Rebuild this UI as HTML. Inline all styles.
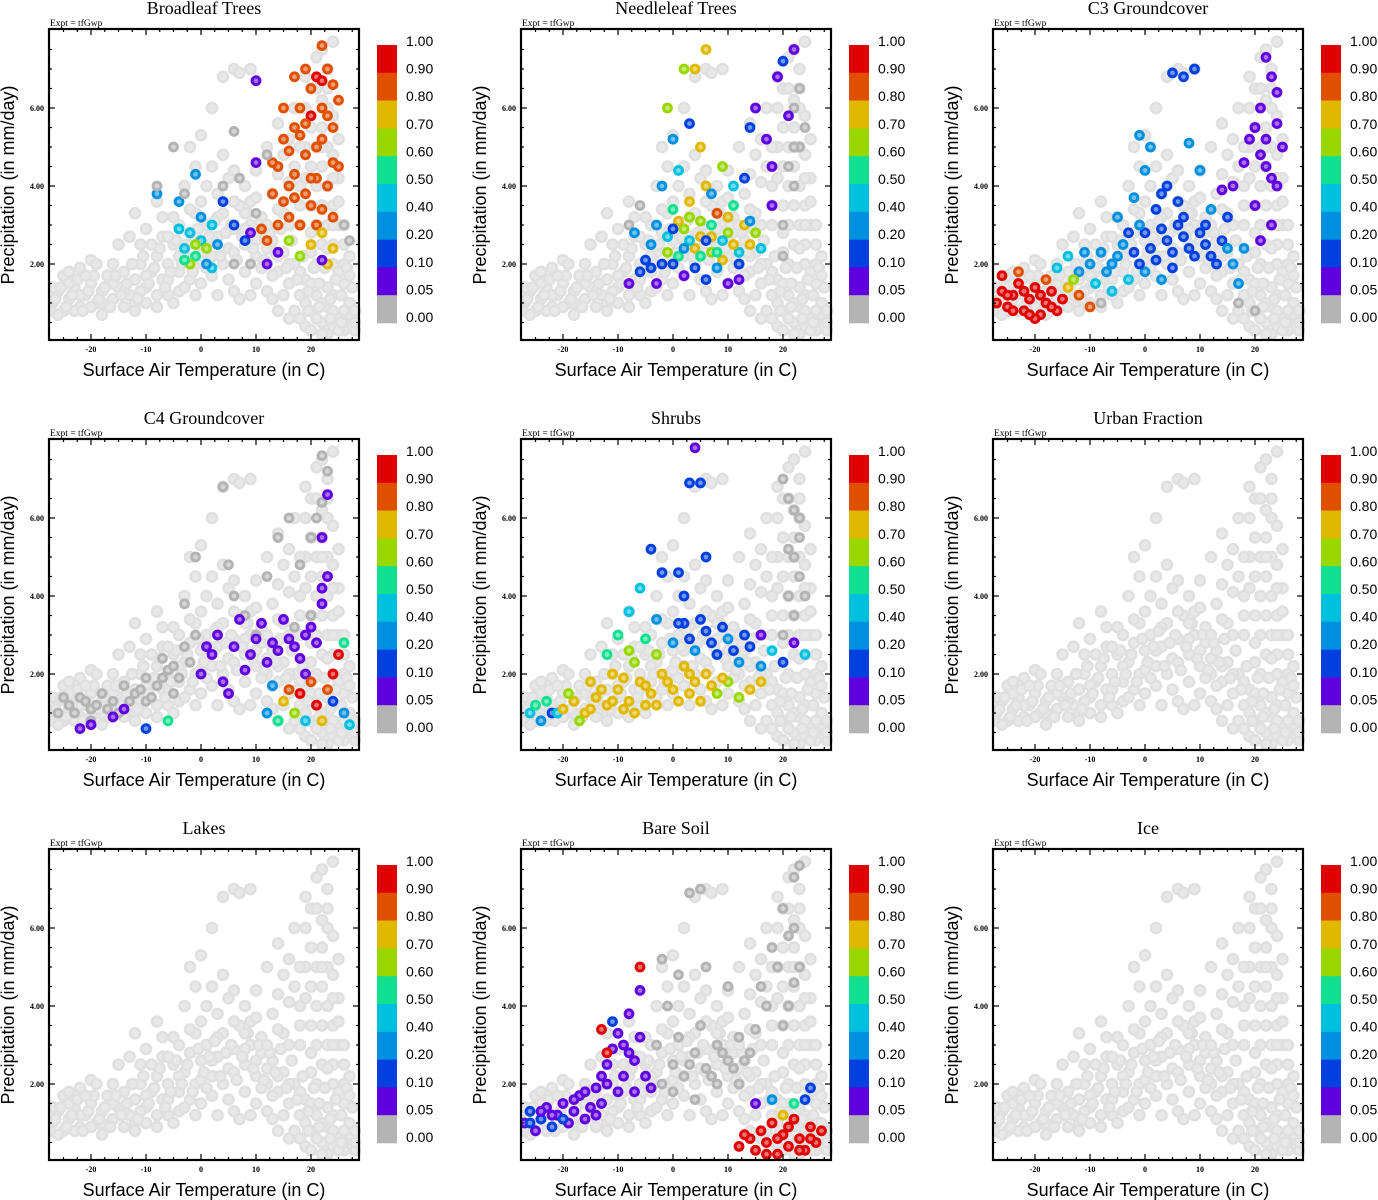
<!DOCTYPE html>
<html><head><meta charset="utf-8"><style>
html,body{margin:0;padding:0;background:#fff;}
svg{display:block;}
.ttl{font-family:"Liberation Serif",serif;font-size:18px;}
.ex{font-family:"Liberation Serif",serif;font-size:9.5px;}
.tk{font-family:"Liberation Serif",serif;font-size:8px;font-weight:bold;}
.al{font-family:"Liberation Sans",sans-serif;font-size:18px;}
.cb{font-family:"Liberation Sans",sans-serif;font-size:14px;}
</style></head><body>
<svg id="fig" width="1378" height="1200" viewBox="0 0 1378 1200" xmlns="http://www.w3.org/2000/svg"></svg>
<script>
const panelTitles = ["Broadleaf Trees","Needleleaf Trees","C3 Groundcover","C4 Groundcover","Shrubs","Urban Fraction","Lakes","Bare Soil","Ice"];
const xTicks = [-20,-10,0,10,20];
const yTicks = [2,4,6];
const yTickLabels = ["2.00","4.00","6.00"];
const cbLabels = ["1.00","0.90","0.80","0.70","0.60","0.50","0.40","0.20","0.10","0.05","0.00"];
const cbThresholds = [0.9,0.8,0.7,0.6,0.5,0.4,0.2,0.1,0.05,0];
const cbColors = ["#e00000","#e05000","#e0b800","#98d800","#10e090","#00c0e0","#0090e0","#0040e0","#6000e0","#b4b4b4"];

const baseCloud = [[-27,1.0],[-26,1.3],[-25,0.8],[-24,1.1],[-23,1.4],[-22,0.9],[-21,1.2],[-20,1.5],[-19,1.0],[-18,1.3],[-17,1.7],[-16,1.1],[-15,1.4],[-14,1.8],[-13,1.2],[-12,1.6],[-11,2.0],[-10,1.4],[-9,1.8],[-8,2.2],[-7,1.6],[-6,2.0],[-5,2.5],[-4,1.8],[-3,2.3],[-2,2.8],[-1,2.0],[0,2.6],[1,3.0],[2,2.2],[3,2.7],[4,3.3],[5,2.4],[6,2.9],[7,3.5],[8,2.5],[9,3.0],[10,2.2],[11,2.8],[12,2.0],[13,2.6],[14,1.8],[15,2.3],[16,1.5],[17,2.0],[18,1.2],[19,1.6],[20,0.8],[21,1.2],[22,0.5],[23,0.9],[24,0.4],[25,0.7],[26,0.3],[27,0.6],[28,0.3],[19,0.4],[23,0.2],[27,1.0],[-3,4.0],[-2,5.0],[-1,4.5],[1,4.0],[3,3.8],[5,4.2],[6,7.0],[7,6.9],[9,7.0],[4,6.8],[2,6.0],[0,5.3],[-10,2.9],[-12,3.3],[-8,3.6],[-5,3.2],[-15,2.5],[-20,2.1],[-25,1.7],[18,3],[18,4],[19,5],[19,6],[20,3.5],[20,4.5],[20,5.5],[20,6.5],[21,3],[21,4],[21,5],[21,7.3],[22,2.5],[22,3.5],[22,4.5],[22,5.5],[22,6.2],[22,7.5],[23,3],[23,4],[23,5],[23,6],[23,7],[24,2.5],[24,3.5],[24,4.8],[24,5.8],[24,7.7],[25,3],[25,4.2],[25,5.2],[26,2],[26,3],[15,3.3],[16,4.1],[13,3.8],[12,5.0],[10,4.4],[8,4.0],[-6,1.2],[-4,1.3],[0,1.5],[2,1.7],[5,1.6],[8,1.8],[10,1.5],[12,1.3],[-18,0.7],[-14,0.9],[-10,1.0],[14,0.8],[16,0.6],[21,2.0],[25,1.8],[27,2.2],[-26,0.7],[-24,1.5],[-22,1.2],[-20,0.9],[-18,1.0],[-16,1.5],[-14,1.3],[-12,1.0],[-10,1.7],[-8,1.2],[-6,1.6],[-4,2.2],[-2,1.6],[0,2.1],[2,2.6],[4,2.0],[6,2.3],[8,2.9],[10,2.6],[12,2.4],[14,2.2],[16,2.0],[18,1.8],[20,1.5],[22,1.0],[24,1.2],[26,0.8],[28,0.8],[17,0.8],[19,1.0],[21,0.6],[23,1.4],[25,0.3],[-1,3.3],[3,3.2],[6,3.6],[9,3.6],[11,3.2],[14,4.3],[16,5.2],[18,5.0],[17,6.0],[14,5.6],[-11,1.3],[-7,2.7],[-3,1.4],[1,1.9],[6,1.3],[11,1.9],[13,1.1],[15,1.2],[20,2.3],[24,2.0],[26,1.5],[-27,1.4],[-23,0.8],
[-27.5,0.8],[-26.5,1.1],[-25.5,1.4],[-24.5,0.9],[-23.5,1.2],[-22.5,1.6],[-21.5,0.8],[-20.5,1.3],[-19.5,1.7],[-18.5,1.1],[-17.5,1.4],[-16.5,0.9],[-15.5,1.7],[-14.5,1.2],[-13.5,1.5],[-12.5,2.0],[-11.5,1.1],[-10.5,2.2],[-9.5,1.5],[-8.5,1.9],[-7.5,2.4],[-6.5,1.4],[-5.5,1.8],[-4.5,2.6],[-3.5,2.0],[-2.5,2.5],[-1.5,1.8],[-0.5,2.9],[0.5,2.3],[1.5,2.7],[2.5,3.1],[3.5,2.2],[4.5,2.8],[5.5,3.0],[6.5,2.1],[7.5,2.7],[8.5,3.3],[9.5,2.4],[10.5,3.0],[11.5,2.1],[12.5,2.8],[13.5,2.3],[14.5,2.9],[15.5,1.9],[16.5,2.6],[17.5,1.6],[18.5,2.2],[19.5,1.3],[20.5,1.9],[21.5,1.5],[22.5,1.9],[23.5,1.1],[24.5,1.6],[25.5,1.2],[26.5,1.9],[27.5,1.4],[18,0.6],[20,0.3],[22,0.2],[24,0.8],[26,0.5],[28,0.5],[19.5,0.8],[21.5,0.9],[23.5,0.6],[25.5,0.5],[-24,1.8],[-21,1.7],[-19,2.0],[-9,2.5],[-6,2.7],[-4,3.0],[-2,3.4],[0,3.6],[2,4.5],[4,4.8],[6,4.4],[8,3.3],[10,3.7],[12,3.0],[14,3.4],[16,3.0],[18,3.5],[17,4.5],[15,4.8],[19,4.2],[19,6.8],[21,6.5],[23,6.5],[22,5.0],[24,4.2],[25,3.6],[24,3.0],[23,2.4],[20,2.8],[26,2.5],[27,1.7],[-13,2.7],[-11,2.5],[-7,3.2],[-16,2.0],[-22,1.9],[-5,1.0],[-1,1.2],[3,1.2],[7,1.1],[9,1.2],[13,1.7],[-8,0.9],[-12,0.8]];

const ptsBroadleaf = [[14,4.5,.85],[15,5.2,.85],[16,4.0,.85],[17,5.5,.85],[18,6.0,.85],[19,4.8,.85],[20,6.5,.85],[21,5.0,.85],[22,6.0,.85],[23,7.0,.85],[24,5.5,.85],[25,4.5,.85],[22,7.6,.85],[20,3.5,.85],[18,3.0,.85],[16,3.2,.85],[14,3.0,.85],[12,2.6,.85],[13,3.8,.85],[15,6.0,.85],[17,4.3,.85],[19,7.0,.85],[21,6.8,.95],[23,4.0,.85],[24,3.2,.85],[25,6.2,.85],[21,4.2,.85],[19,3.8,.85],[22,5.2,.85],[20,5.8,.95],[11,2.9,.85],[17,6.8,.85],[24,6.6,.85],[15,3.6,.85],[16,4.9,.85],[18,5.3,.85],[20,4.2,.85],[22,3.4,.85],[23,5.8,.85],[24,4.6,.85],[21,3.0,.85],[19,5.6,.85],[17,3.7,.85],[22,6.7,.95],[13,4.6,.85],[20,2.5,.75],[22,2.8,.75],[24,2.4,.75],[18,2.2,.65],[16,2.6,.65],[23,2.0,.75],[-3,2.4,.45],[-2,2.8,.45],[-1,2.2,.55],[0,2.6,.45],[1,2.4,.65],[2,3.0,.45],[3,2.5,.3],[-4,2.9,.45],[-2,2.0,.65],[0,3.2,.3],[4,3.6,.15],[6,3.0,.15],[8,2.6,.1],[2,1.9,.45],[-1,2.5,.65],[1,2.0,.3],[-3,2.1,.55],[10,6.7,.05],[10,4.6,.05],[12,2.0,.05],[9,2.8,.05],[22,2.1,.05],[-8,3.8,.3],[-4,3.6,.3],[-1,4.3,.3],[14,2.3,.05],[-5,5,0],[-8,4,0],[-3,3.8,0],[4,4.0,0],[6,5.4,0],[7,4.2,0],[10,3.3,0],[12,4.8,0],[26,3.0,0],[27,2.6,0],[9,2.0,0],[6,2.0,0]];
const ptsNeedleleaf = [[20,3,0],[22,4,0],[23,5,0],[22,6,0],[24,5.5,0],[21,4.5,0],[-6,3.5,0],[-8,3,0],[20,2.2,0],[22,5,0],[23,6.5,0],[-5,2.1,.1],[-4,2.5,.3],[-3,3.0,.3],[-2,2.0,.1],[-1,2.7,.45],[0,3.4,.55],[1,2.2,.55],[2,2.9,.65],[3,3.6,.75],[4,2.4,.75],[5,3.1,.65],[6,4.0,.75],[7,2.7,.75],[8,3.3,.85],[9,2.1,.75],[10,2.8,.65],[11,3.5,.55],[12,2.3,.45],[13,3.0,.75],[14,2.5,.75],[15,2.8,.65],[16,2.4,.45],[0,2.0,.1],[2,1.7,.05],[4,1.9,.1],[6,1.6,.1],[8,1.9,.3],[10,1.5,.05],[12,2.0,.1],[-8,1.5,.05],[-6,1.8,.1],[-7,2.8,.3],[-2,4.0,.3],[0,5.2,.3],[1,4.4,.45],[3,5.6,.15],[2,7.0,.65],[4,7.0,.75],[5,5.0,.75],[-1,6.0,.65],[7,3.8,.3],[9,4.5,.65],[11,4.0,.45],[13,4.2,.1],[14,5.5,.1],[15,6.0,.05],[17,5.2,.05],[18,4.5,.05],[19,6.8,.05],[20,7.2,.1],[21,5.8,.05],[22,7.5,.05],[18,3.5,.05],[12,1.6,.05],[3,2.6,.45],[5,2.2,.55],[7,3.0,.55],[-3,1.5,.05],[6,7.5,.75],[1,3.1,.75],[3,3.2,.65],[5,2.7,.75],[7,2.3,.65],[9,2.6,.45],[11,2.5,.75],[-1,2.3,.65],[0,2.9,.1],[2,2.4,.3],[6,2.6,.1],[8,2.3,.55],[10,3.2,.75],[14,3.1,.3],[-4,1.9,.1]];
const ptsC3 = [[17,1.0,0],[20,0.8,0],[-8,1.0,0],[-12,1.8,.3],[-10,2.0,.3],[-8,2.3,.3],[-6,2.0,.3],[-4,2.5,.3],[-2,2.3,.15],[0,2.8,.15],[2,2.1,.1],[4,2.6,.1],[6,3.0,.1],[8,2.4,.1],[10,2.8,.1],[12,2.2,.12],[14,2.6,.15],[16,2.0,.3],[-9,1.5,.45],[-6,1.3,.45],[-3,1.6,.45],[0,1.8,.3],[3,1.6,.3],[5,1.9,.15],[-5,3.2,.3],[-2,3.7,.3],[0,4.4,.3],[1,5.0,.3],[2,3.4,.15],[4,4.0,.15],[6,3.6,.12],[5,6.9,.15],[7,6.8,.1],[9,7.0,.15],[8,5.1,.3],[10,4.4,.3],[12,3.4,.3],[15,3.2,.15],[18,2.4,.3],[-16,1.9,.45],[-14,2.2,.45],[-1,5.3,.3],[17,1.5,.3],[-11,2.3,.3],[-7,1.8,.3],[-5,2.2,.3],[-3,2.8,.15],[-1,2.0,.15],[1,2.4,.1],[3,2.9,.1],[5,2.3,.15],[7,2.7,.1],[9,2.2,.1],[11,2.5,.15],[13,2.0,.1],[15,2.4,.3],[-1,3.0,.3],[3,3.8,.15],[7,3.2,.15],[11,3.0,.1],[16,4.0,.05],[18,4.6,.05],[19,5.2,.05],[20,3.5,.05],[21,6.0,.05],[22,4.5,.05],[23,6.8,.05],[24,5.6,.05],[22,7.3,.05],[23,3.0,.05],[24,4.0,.05],[25,5.0,.05],[21,2.6,.05],[20,5.5,.05],[14,3.9,.05],[22,5.2,.05],[24,6.4,.05],[23,4.2,.05],[21,4.8,.05],[-27,1.0,.95],[-26,1.3,.95],[-25,0.9,.95],[-24,1.2,.95],[-23,1.5,.95],[-22,0.8,.95],[-21,1.1,.95],[-20,1.4,.95],[-19,0.7,.95],[-18,1.0,.95],[-17,1.3,.95],[-16,0.8,.95],[-15,1.1,.95],[-20,0.6,.95],[-23,1.8,.85],[-18,1.6,.85],[-14,1.4,.75],[-13,1.6,.65],[-26,1.7,.95],[-12,1.2,.85],[-10,0.9,.85],[-25,1.2,.95],[-22,1.3,.95],[-19,1.2,.95],[-17,0.9,.95],[-21,0.7,.95],[-24,0.8,.95]];
const ptsC4 = [[-26,1.0,0],[-24,1.2,0],[-22,1.4,0],[-20,1.1,0],[-18,1.5,0],[-16,1.3,0],[-14,1.7,0],[-12,1.5,0],[-10,1.9,0],[-8,1.7,0],[-6,2.1,0],[-4,1.9,0],[-2,2.3,0],[-3,2.7,0],[-20,0.8,0],[-15,1.0,0],[-10,1.3,0],[-5,1.5,0],[-1,3.0,0],[-7,2.4,0],[-3,3.8,0],[-1,5.0,0],[6,4.0,0],[8,3.5,0],[12,4.5,0],[14,5.5,0],[16,6.0,0],[18,4.8,0],[20,5.5,0],[22,6.4,0],[23,7.2,0],[20,3.5,0],[17,3.2,0],[10,3.0,0],[5,4.8,0],[4,6.8,0],[-25,1.4,0],[-23,1.0,0],[-21,1.3,0],[-19,1.2,0],[-17,1.1,0],[-13,1.3,0],[-11,1.6,0],[-9,1.4,0],[-7,1.9,0],[-5,2.2,0],[21,6.0,0],[22,7.6,0],[0,2.0,.05],[2,2.5,.05],[4,1.8,.05],[6,2.7,.05],[8,2.1,.05],[10,2.9,.05],[12,2.3,.05],[14,2.6,.05],[16,2.9,.05],[18,2.4,.05],[20,3.2,.05],[22,3.8,.05],[23,4.5,.05],[22,5.5,.05],[23,6.6,.05],[21,2.8,.05],[3,3.0,.05],[7,3.4,.05],[11,3.3,.05],[15,3.4,.05],[5,1.5,.05],[1,2.7,.05],[9,2.5,.05],[13,2.8,.05],[17,2.7,.05],[19,3.0,.05],[22,4.2,.05],[-22,0.6,.05],[-20,0.7,.05],[-16,0.9,.05],[-14,1.1,.05],[-10,0.6,.15],[-6,0.8,.55],[19,2.0,.05],[12,1.0,.3],[14,0.8,.55],[15,1.3,.75],[16,1.6,.85],[17,1.0,.65],[18,1.5,.95],[19,0.8,.45],[20,1.8,.85],[21,1.2,.95],[22,0.8,.75],[23,1.6,.85],[24,2.0,.95],[25,2.5,.95],[26,1.0,.3],[27,0.7,.45],[26,2.8,.55],[13,1.7,.3],[24,1.3,.1]];
const ptsShrubs = [[20,3,0],[21,4,0],[22,5,0],[23,6,0],[21,6.5,0],[22,3.5,0],[23,4.5,0],[20,7,0],[24,4.0,0],[21,5.2,0],[22,6.2,0],[23,5.5,0],[-26,1.0,.45],[-24,0.8,.3],[-23,1.3,.55],[-22,1.0,.1],[-12,2.5,.55],[-10,3.0,.55],[-8,3.6,.45],[-6,4.2,.45],[-4,5.2,.1],[-3,3.4,.3],[0,2.8,.3],[2,3.3,.1],[4,2.6,.3],[6,3.1,.1],[8,2.5,.15],[10,2.9,.3],[12,2.3,.3],[14,2.7,.1],[16,2.2,.3],[18,2.6,.45],[20,2.3,.1],[22,2.8,.05],[1,4.6,.15],[2,4.0,.1],[3,6.9,.1],[5,6.9,.15],[6,5.0,.1],[4,7.8,.05],[-2,4.6,.1],[-5,2.9,.55],[-8,2.6,.65],[16,3.0,.05],[24,2.5,.45],[1,3.3,.1],[3,2.9,.1],[5,3.4,.1],[7,2.8,.1],[9,3.2,.1],[11,2.6,.15],[13,3.0,.1],[-25,1.2,.55],[-21,1.0,.45],[-20,1.1,.75],[-18,1.3,.75],[-16,1.0,.75],[-14,1.4,.75],[-12,1.2,.75],[-10,1.6,.75],[-8,1.3,.75],[-6,1.8,.75],[-4,1.5,.75],[-2,2.0,.75],[0,1.6,.75],[2,2.2,.75],[4,1.8,.75],[6,2.0,.75],[8,1.5,.65],[10,1.8,.65],[12,1.4,.65],[-15,1.8,.75],[-11,2.0,.75],[-7,2.3,.65],[-3,2.5,.65],[1,1.3,.75],[5,1.3,.75],[-17,0.8,.65],[-9,1.1,.75],[-5,1.2,.75],[3,1.5,.75],[7,1.7,.75],[14,1.6,.75],[-19,1.5,.65],[-13,1.6,.75],[-9,1.9,.75],[-5,1.7,.75],[-1,1.8,.75],[3,2.0,.75],[9,1.9,.75],[-15,1.1,.75],[-11,1.3,.75],[-7,1.0,.75],[-3,1.2,.75],[16,1.8,.75]];
const ptsUrban = [];
const ptsLakes = [];
const ptsBare = [[-2,2.0,0],[0,2.5,0],[2,2.2,0],[4,2.8,0],[6,2.4,0],[8,3.0,0],[10,2.6,0],[12,3.2,0],[14,2.8,0],[-1,4.0,0],[1,4.8,0],[3,6.9,0],[5,7.0,0],[16,4.5,0],[18,5.5,0],[20,6.5,0],[22,7.3,0],[21,4.0,0],[23,5.0,0],[-3,3.0,0],[6,5.0,0],[10,4.5,0],[-2,5.2,0],[0,1.8,0],[4,1.6,0],[8,2.0,0],[12,2.0,0],[20,3.5,0],[22,6.0,0],[23,7.6,0],[1,3.2,0],[3,2.5,0],[5,3.5,0],[7,2.2,0],[9,2.8,0],[11,2.4,0],[13,2.6,0],[15,3.4,0],[17,4.0,0],[19,5.0,0],[21,5.8,0],[22,4.6,0],[-27,1.0,.05],[-26,1.3,.1],[-25,0.8,.05],[-24,1.1,.1],[-23,1.4,.05],[-22,0.9,.1],[-21,1.2,.05],[-20,1.5,.05],[-19,1.0,.05],[-18,1.3,.05],[-17,1.7,.05],[-16,1.1,.05],[-15,1.4,.05],[-14,1.9,.05],[-13,2.2,.05],[-12,2.5,.05],[-11,2.9,.05],[-10,3.3,.05],[-9,3.0,.05],[-8,3.8,.05],[-7,2.6,.05],[-6,4.4,.05],[-5,2.2,.05],[-13,1.5,.05],[-10,1.8,.05],[-7,1.8,.05],[-4,1.9,.05],[-11,3.6,.1],[-26,1.0,.1],[-24,1.3,.05],[-22,1.2,.05],[-20,1.1,.1],[-18,1.6,.05],[-16,1.8,.05],[-14,1.2,.05],[-12,2.0,.05],[-9,2.2,.05],[-8,2.8,.05],[-6,3.2,.05],[-13,3.4,.95],[-12,2.8,.95],[-6,5.0,.95],[12,0.4,.95],[14,0.6,.95],[15,0.3,.95],[16,0.8,.95],[17,0.5,.95],[18,1.0,.95],[19,0.2,.95],[20,0.7,.95],[21,0.4,.95],[22,1.1,.95],[23,0.6,.95],[24,0.3,.95],[25,0.9,.95],[26,0.5,.95],[27,0.8,.95],[13,0.7,.95],[17,0.2,.95],[19,0.6,.95],[21,0.9,.95],[23,0.3,.95],[25,0.6,.95],[20,1.2,.75],[22,1.5,.55],[24,1.6,.1],[18,1.6,.3],[25,1.9,.1],[15,1.5,.05]];
const ptsIce = [];
const panelPoints = [ptsBroadleaf,ptsNeedleleaf,ptsC3,ptsC4,ptsShrubs,ptsUrban,ptsLakes,ptsBare,ptsIce];

const NS = "http://www.w3.org/2000/svg";
const svg = document.getElementById("fig");
function mk(tag, attrs, parent){ const e=document.createElementNS(NS,tag); for(const k in attrs) e.setAttribute(k,attrs[k]); (parent||svg).appendChild(e); return e; }
function colorFor(v){ for(let i=0;i<cbThresholds.length;i++){ if(v>=cbThresholds[i]) return cbColors[i]; } return cbColors[cbColors.length-1]; }
function lighten(hex){ const n=parseInt(hex.slice(1),16); const r=(n>>16)&255,g=(n>>8)&255,b=n&255; const f=c=>Math.round(c+(255-c)*0.45); return "rgb("+f(r)+","+f(g)+","+f(b)+")"; }

panelTitles.forEach((title, idx)=>{
  const col = idx%3, row = Math.floor(idx/3);
  const ox = col*472, oy = row*410;
  const X0=49+ox, X1=359+ox, Y0=29+oy, Y1=340+oy;
  const xs = t => 201+ox + t*5.5;
  const ys = p => 342+oy - p*39;
  const g = mk("g",{});
  
  
  const clipId = "clip"+idx;
  const cp = mk("clipPath",{id:clipId}, g);
  mk("rect",{x:X0,y:Y0-6,width:X1-X0+6,height:Y1-Y0+6},cp);
  const t = mk("text",{x:204+ox,y:14+oy,"text-anchor":"middle",class:"ttl"},g); t.textContent=title;
  
  
  const ex = mk("text",{x:50+ox,y:26+oy,class:"ex"},g); ex.textContent="Expt = tfGwp";
  
  
  const pg = mk("g",{"clip-path":"url(#"+clipId+")"},g);
  
  
  baseCloud.forEach(d=>{
    const c = mk("circle",{cx:xs(d[0]),cy:ys(d[1]),r:5,fill:"#e8e8e8",stroke:"#e0e0e0","stroke-width":2.6},pg);
    
    
  });
  panelPoints[idx].forEach(d=>{
    const colr = colorFor(d[2]);
    const c = mk("circle",{cx:xs(d[0]),cy:ys(d[1]),r:3.9,fill:lighten(colr),stroke:colr,"stroke-width":3},pg);
    
    
  });
  const frame = mk("rect",{x:X0,y:Y0,width:X1-X0,height:Y1-Y0,fill:"none",stroke:"#000","stroke-width":2.2},g);
  
  
  for(let tv=-25; tv<=28; tv+=2.5){
    const x=xs(tv); if(x<X0||x>X1) continue;
    const major = xTicks.indexOf(tv)>=0;
    const L = major?6:3;
    mk("line",{x1:x,y1:Y1,x2:x,y2:Y1-L,stroke:"#000","stroke-width":1.2},g);
    mk("line",{x1:x,y1:Y0,x2:x,y2:Y0+L,stroke:"#000","stroke-width":1.2},g);
  }
  xTicks.forEach(tv=>{
    const lt = mk("text",{x:xs(tv),y:Y1+12,"text-anchor":"middle",class:"tk"},g); lt.textContent=String(tv);
    
    
  });
  for(let pv=0.5; pv<8; pv+=0.5){
    const y=ys(pv); if(y<Y0||y>Y1) continue;
    const major = yTicks.indexOf(pv)>=0;
    const L = major?6:3;
    mk("line",{x1:X0,y1:y,x2:X0+L,y2:y,stroke:"#000","stroke-width":1.2},g);
    mk("line",{x1:X1,y1:y,x2:X1-L,y2:y,stroke:"#000","stroke-width":1.2},g);
  }
  yTicks.forEach((pv,i)=>{
    const lt = mk("text",{x:X0-5,y:ys(pv)+3,"text-anchor":"end",class:"tk"},g); lt.textContent=yTickLabels[i];
    
    
  });
  const xl = mk("text",{x:204+ox,y:376+oy,"text-anchor":"middle",class:"al"},g); xl.textContent="Surface Air Temperature (in C)";
  
  
  const yl = mk("text",{x:0,y:0,"text-anchor":"middle",class:"al",transform:"translate("+(14+ox)+","+(185+oy)+") rotate(-90)"},g); yl.textContent="Precipitation (in mm/day)";
  
  
  const cb = mk("g",{},g);
  
  
  const bh = 278/cbColors.length;
  cbColors.forEach((c,i)=>{
    const r = mk("rect",{x:377+ox,y:45+oy+i*bh,width:20,height:bh+0.3,fill:c},cb);
    
    
  });
  cbLabels.forEach((lab,i)=>{
    const lt = mk("text",{x:406+ox,y:46+oy+i*27.6,class:"cb"},cb); lt.textContent=lab;
    
    
  });
});
</script>
</body></html>
